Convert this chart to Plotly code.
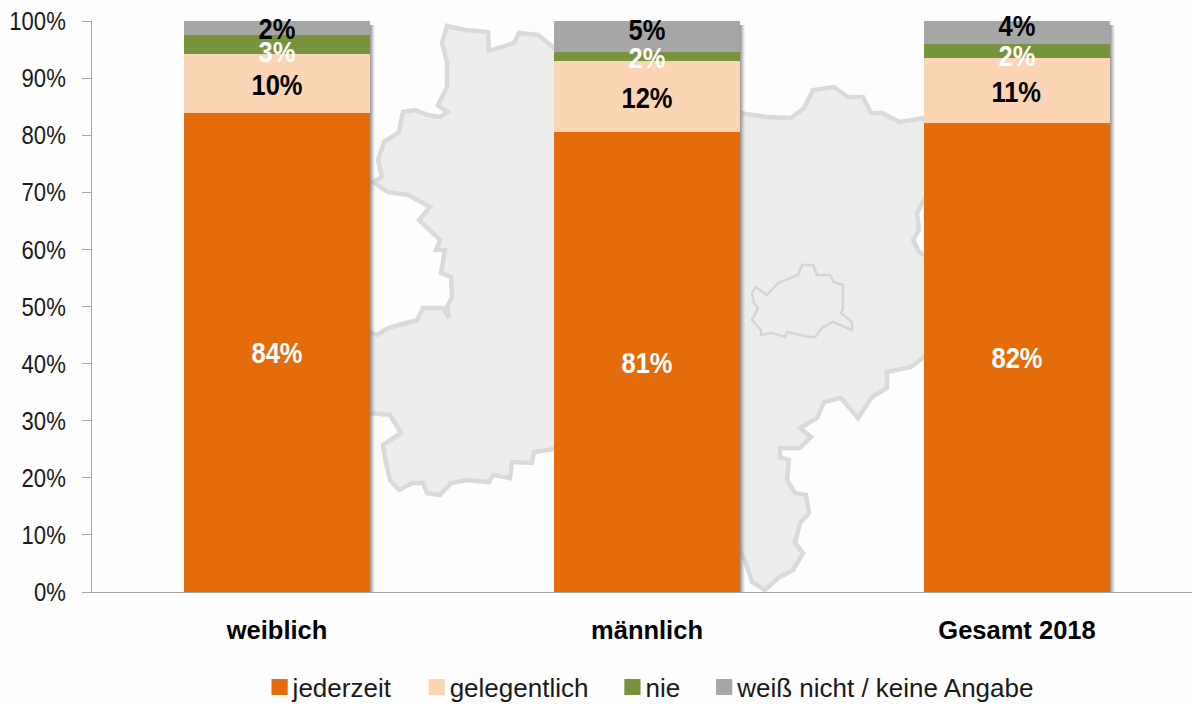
import plotly.graph_objects as go

categories = ["weiblich", "männlich", "Gesamt 2018"]
jederzeit = [83.9, 80.6, 82.1]
gelegentlich = [10.4, 12.4, 11.4]
nie = [3.3, 1.6, 2.4]
keine_angabe = [2.4, 5.4, 4.1]
y_ticks = list(range(0, 101, 10))

series = [
    ("jederzeit", jederzeit, "#E46C0A", "#FFFFFF"),
    ("gelegentlich", gelegentlich, "#FCD5B5", "#000000"),
    ("nie", nie, "#77933C", "#FFFFFF"),
    ("weiß nicht / keine Angabe", keine_angabe, "#A6A6A6", "#000000"),
]
# pixel nudges of the data labels, as in the reference
label_shift = {
    "jederzeit": [-1, -1, 0],
    "gelegentlich": [-2, -2, -1],
    "nie": [-8, -2, -5],
    "weiß nicht / keine Angabe": [-1, 6, 7],
}

W, H = 1192, 704
L, R, T, B = 92, 0, 21, 112
FONT = "Liberation Sans, Arial, sans-serif"
BAR_W = 0.503


def path(points, close=True):
    """Decorative map backdrop: page pixels to paper coordinates."""
    pw, ph = W - L - R, H - T - B
    p = [((x - L) / pw, (H - B - y) / ph) for x, y in points]
    return "M" + "L".join(f"{x:.4f},{y:.4f}" for x, y in p) + ("Z" if close else "")


map_outline = [
    (373, 182), (382, 177), (378, 160), (384, 142), (399, 132), (403, 112), (415, 110), (428, 115), (440, 117),
    (447, 112), (438, 105), (447, 87), (447, 62), (442, 43), (447, 26), (465, 30), (488, 32), (489, 51),
    (514, 43), (519, 33), (538, 35), (554, 48), (600, 80), (739, 113), (767, 117), (791, 118), (804, 108),
    (813, 90), (834, 87), (848, 97), (863, 97), (871, 113), (882, 113), (900, 122), (924, 118), (960, 200),
    (960, 340), (924, 357), (911, 367), (887, 372), (887, 388), (872, 397), (858, 418), (841, 398), (824, 402),
    (817, 418), (800, 428), (811, 437), (800, 448), (780, 448), (780, 457), (789, 460), (787, 480), (795, 493),
    (806, 495), (809, 513), (800, 523), (795, 543), (803, 553), (793, 570), (778, 578), (765, 590), (752, 582),
    (745, 560), (739, 550), (700, 450), (554, 449), (534, 452), (532, 463), (512, 462), (510, 478), (493, 475),
    (489, 482), (467, 480), (451, 483), (440, 495), (427, 493), (423, 483), (412, 483), (399, 490), (390, 480),
    (386, 463), (383, 445), (401, 433), (390, 415), (371, 413), (350, 410), (350, 335), (369, 332), (377, 335),
    (388, 328), (417, 320), (423, 308), (443, 308), (449, 318), (447, 307), (452, 297), (451, 277), (441, 273),
    (445, 250), (436, 250), (440, 240), (419, 220), (430, 207), (408, 195), (388, 192),
]
vienna = [
    (756, 287), (767, 295), (778, 283), (798, 275), (802, 265), (813, 265), (817, 275), (830, 275), (834, 282),
    (843, 285), (843, 308), (841, 313), (852, 322), (852, 330), (833, 322), (822, 328), (815, 337), (809, 337),
    (787, 332), (785, 337), (772, 333), (761, 335), (761, 330), (752, 320), (758, 308), (754, 303), (752, 293),
]
notch = [(940, 200), (924, 200), (917, 213), (919, 230), (913, 240), (919, 252), (924, 255), (940, 255)]

shapes = [
    dict(type="path", xref="paper", yref="paper", path=path(map_outline), fillcolor="#ECECEA",
         line=dict(color="#D9D9D9", width=4.5), layer="below"),
    dict(type="path", xref="paper", yref="paper", path=path(vienna), fillcolor="#ECECEA",
         line=dict(color="#D4D4D4", width=2.5), layer="below"),
    dict(type="path", xref="paper", yref="paper", path=path(notch), fillcolor="#FDFDFD",
         line=dict(color="#D9D9D9", width=4.5), layer="below"),
]

# soft drop shadow on the right of every bar
px_to_x = 1 / 370
for i in range(len(categories)):
    for k, op in enumerate([0.8, 0.6, 0.4, 0.22, 0.1]):
        x0 = i + BAR_W / 2 + k * px_to_x
        shapes.append(dict(type="rect", xref="x", yref="y", x0=x0, x1=x0 + px_to_x, y0=0, y1=99.3,
                           fillcolor="#7F7F7F", opacity=op, line=dict(width=0), layer="below"))

fig = go.Figure()
xs = list(range(len(categories)))
annotations = []
base = [0.0] * len(categories)
for name, values, color, txt in series:
    fig.add_trace(go.Bar(x=xs, y=values, name=name, marker=dict(color=color, line=dict(width=0)), width=BAR_W))
    for i, v in enumerate(values):
        annotations.append(dict(x=i, y=base[i] + v / 2, text=f"{round(v)}%", showarrow=False,
                                yshift=label_shift[name][i], xanchor="center", yanchor="middle",
                                font=dict(family=FONT, size=29, color=txt, weight="bold")))
        base[i] += v

fig.update_layout(
    width=W, height=H, barmode="stack", autosize=False,
    margin=dict(l=L, r=R, t=T, b=B, pad=0),
    paper_bgcolor="#FDFDFD", plot_bgcolor="rgba(0,0,0,0)",
    font=dict(family=FONT, size=26, color="#1A1A1A"),
    shapes=shapes, annotations=annotations,
    showlegend=True,
    legend=dict(orientation="h", xref="container", yref="container", x=0.537, xanchor="center",
                y=0.024, yanchor="middle", itemwidth=42,
                font=dict(family=FONT, size=26, color="#1A1A1A"), traceorder="normal",
                bgcolor="rgba(0,0,0,0)"),
    xaxis=dict(range=[-0.5, 2.473], tickmode="array", tickvals=xs, ticktext=categories, showgrid=False,
               zeroline=False, showline=True, linecolor="#A6A6A6", linewidth=1, ticks="", ticklabelstandoff=15,
               tickfont=dict(family=FONT, size=25.5, color="#000000", weight="bold")),
    yaxis=dict(range=[0, 100], tickmode="array", tickvals=y_ticks, ticktext=[f"{t}%" for t in y_ticks],
               showgrid=False, zeroline=False, showline=True, linecolor="#A6A6A6", linewidth=1,
               ticks="outside", ticklen=9, tickcolor="#A6A6A6", tickwidth=1, ticklabelstandoff=11,
               tickfont=dict(family=FONT, size=26, color="#1A1A1A")),
)

post = """
document.documentElement.style.margin = '0';
document.body.style.margin = '0';
document.body.style.background = '#FDFDFD';
document.documentElement.style.overflow = 'hidden';
function squeeze(sel, f) {
  document.querySelectorAll(sel).forEach(function (t) {
    t.setAttribute('textLength', (t.getComputedTextLength() * f).toFixed(1));
    t.setAttribute('lengthAdjust', 'spacingAndGlyphs');
  });
}
squeeze('.ytick text', 0.85);
squeeze('.annotation-text', 0.88);
document.querySelectorAll('.legend .legendpoints').forEach(function (g) {
  g.setAttribute('transform', 'translate(13,0)');
  g.querySelectorAll('path').forEach(function (p) {
    p.setAttribute('transform', (p.getAttribute('transform') || '') + ' scale(1.35)');
  });
});
"""
fig.write_html("out.html", post_script=post, config=dict(displayModeBar=False, staticPlot=True))
